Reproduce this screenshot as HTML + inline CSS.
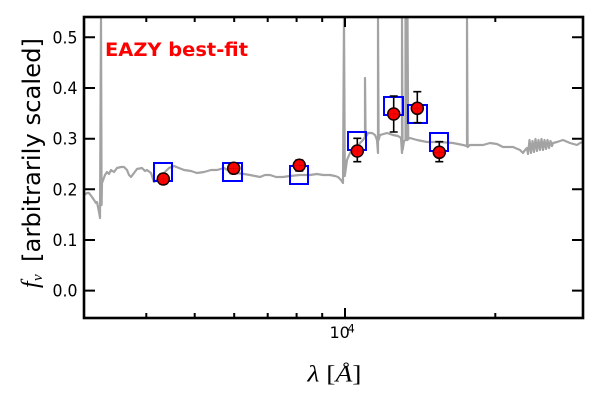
<!DOCTYPE html>
<html>
<head>
<meta charset="utf-8">
<style>
  html, body { margin: 0; padding: 0; background: #ffffff; }
  svg { display: block; }
</style>
</head>
<body>
<svg width="600" height="400" viewBox="0 0 600 400" xmlns="http://www.w3.org/2000/svg">
  <rect x="0" y="0" width="600" height="400" fill="#ffffff"/>
  <defs>
    <clipPath id="plot">
      <rect x="84" y="17" width="499" height="301"/>
    </clipPath>
  </defs>

  <!-- spectrum -->
  <g clip-path="url(#plot)">
    <path fill="none" stroke="#a3a3a3" stroke-width="2.2" stroke-linejoin="round"
      d="M84,195 L87,193 L89,193 L92,197 L94,200 L96,203 L97,202 L99,212 L100,218 L101,17 L101.6,205 L102,183 L105,175 L107,172 L109,174 L111,170 L114,172 L117,168 L121,167 L124,167 L127,170 L129,175 L131,177 L134,173 L137,169 L142,168 L145,171 L147,170 L151,173 L154,182 L157,180 L159,180 L162,176 L164,173 L169,168 L174,166 L179,168 L184,170 L191,171 L197,173 L204,172 L211,170 L217,170 L224,168 L231,172 L237,173 L244,174 L250,175 L255,176 L260,177 L265,175 L270,175 L276,177 L283,177 L290,176 L300,175 L310,175 L317,174 L323,175 L330,175 L335,176 L338,177 L341,180 L343,183 L344,17 L344.8,176 L347,160 L350,153 L353,150 L355,148 L358,147 L360,143 L363,140 L365,137 L365,78 L365.6,137 L368,133 L372,133 L375,135 L377,140 L378,153 L378,17 L378.6,140 L380,135 L387,133 L393,135 L398,136 L401,138 L402,153 L402,17 L402.6,150 L404,141 L405.5,140 L405.5,17 L406.2,140 L407.5,140 L407.5,17 L408.2,139 L410,138 L417,140 L427,142 L440,142 L453,143 L463,145 L467,146 L467,17 L467.6,147 L470,145 L483,145 L490,143 L497,144 L503,147 L513,147 L520,150 L523,153 L525,150 L527,148 L528,154 L529.5,140 L531,153 L532.5,141 L534,152 L535.5,139 L537,151 L538.5,140 L540,150 L541.5,139 L543,150 L544.5,140 L546,149 L547.5,140 L549,148 L550.5,141 L552,146 L553,143 L557,142 L563,140 L570,143 L577,145 L580,143 L583,142"/>
  </g>

  <!-- model photometry squares -->
  <g fill="none" stroke="#0000ff" stroke-width="2">
    <rect x="154" y="163" width="18" height="18"/>
    <rect x="223" y="163" width="19" height="18"/>
    <rect x="290" y="166" width="18" height="18"/>
    <rect x="348" y="132" width="18" height="18"/>
    <rect x="384" y="97" width="19" height="18"/>
    <rect x="408" y="105" width="19" height="18"/>
    <rect x="430" y="133" width="18" height="18"/>
  </g>

  <!-- error bars -->
  <g stroke="#000000" stroke-width="1.6" fill="none">
    <path d="M163.3,174 V184 M159.3,174 H167.3 M159.3,184 H167.3"/>
    <path d="M233.7,163.5 V173.5 M229.7,163.5 H237.7 M229.7,173.5 H237.7"/>
    <path d="M299.3,160 V171 M295.3,160 H303.3 M295.3,171 H303.3"/>
    <path d="M357.3,138.3 V161.7 M353.3,138.3 H361.3 M353.3,161.7 H361.3"/>
    <path d="M393.7,96 V132 M389.7,96 H397.7 M389.7,132 H397.7"/>
    <path d="M417.3,91.7 V122.7 M413.3,91.7 H421.3 M413.3,122.7 H421.3"/>
    <path d="M439.3,141.7 V161.7 M435.3,141.7 H443.3 M435.3,161.7 H443.3"/>
  </g>

  <!-- observed points -->
  <g fill="#ff0000" stroke="#1a0000" stroke-width="1.5">
    <circle cx="163.3" cy="179" r="6"/>
    <circle cx="233.7" cy="168.3" r="6"/>
    <circle cx="299.3" cy="165.3" r="6"/>
    <circle cx="357.3" cy="151" r="6"/>
    <circle cx="393.7" cy="114" r="6"/>
    <circle cx="417.3" cy="108.3" r="6"/>
    <circle cx="439.3" cy="152.3" r="6"/>
  </g>
  <g stroke="#b00000" stroke-width="0.8" opacity="0.6">
    <path d="M163.3,174 V184 M158,179 H168.6"/>
    <path d="M233.7,163 V173.6 M228.4,168.3 H239"/>
    <path d="M299.3,160 V170.6 M294,165.3 H304.6"/>
    <path d="M357.3,145.7 V156.3 M352,151 H362.6"/>
    <path d="M393.7,108.7 V119.3 M388.4,114 H399"/>
    <path d="M417.3,103 V113.6 M412,108.3 H422.6"/>
    <path d="M439.3,147 V157.6 M434,152.3 H444.6"/>
  </g>

  <!-- axes frame -->
  <rect x="84" y="17" width="499" height="301" fill="none" stroke="#000000" stroke-width="2.6"/>

  <!-- ticks -->
  <g stroke="#000000" stroke-width="2">
    <path d="M84,37.3 H95 M84,88 H95 M84,138.7 H95 M84,189.3 H95 M84,240 H95 M84,290.6 H95"/>
    <path d="M583,37.3 H572 M583,88 H572 M583,138.7 H572 M583,189.3 H572 M583,240 H572 M583,290.6 H572"/>
    <path d="M345,318 V308 M345,17 V27"/>
    <path d="M146.3,318 V313 M194.7,318 V313 M234.2,318 V313 M267.7,318 V313 M296.6,318 V313 M322.2,318 V313 M495.3,318 V313"/>
    <path d="M146.3,17 V22 M194.7,17 V22 M234.2,17 V22 M267.7,17 V22 M296.6,17 V22 M322.2,17 V22 M495.3,17 V22"/>
  </g>

  <!-- y tick labels -->
  <g font-family="'DejaVu Sans', 'Liberation Sans', sans-serif" font-size="16.5" fill="#000000" text-anchor="end">
    <text x="77.5" y="43.3" textLength="25" lengthAdjust="spacingAndGlyphs">0.5</text>
    <text x="77.5" y="94" textLength="25" lengthAdjust="spacingAndGlyphs">0.4</text>
    <text x="77.5" y="144.6" textLength="25" lengthAdjust="spacingAndGlyphs">0.3</text>
    <text x="77.5" y="195.3" textLength="25" lengthAdjust="spacingAndGlyphs">0.2</text>
    <text x="77.5" y="246" textLength="25" lengthAdjust="spacingAndGlyphs">0.1</text>
    <text x="77.5" y="296.6" textLength="25" lengthAdjust="spacingAndGlyphs">0.0</text>
  </g>

  <!-- x tick label -->
  <text x="329.5" y="338" font-family="'DejaVu Sans', 'Liberation Sans', sans-serif" font-size="16" fill="#000000">10</text>
  <text x="347.5" y="332.5" font-family="'DejaVu Sans', 'Liberation Sans', sans-serif" font-size="11.5" fill="#000000">4</text>

  <!-- annotation -->
  <text x="105" y="56" font-family="'DejaVu Sans', 'Liberation Sans', sans-serif" font-weight="bold" font-size="18.5" fill="#ff0000" textLength="143" lengthAdjust="spacingAndGlyphs">EAZY best-fit</text>

  <!-- y label -->
  <g transform="translate(40,38) rotate(-90)">
    <text x="0" y="0" text-anchor="end" font-family="'DejaVu Sans', 'Liberation Sans', sans-serif" font-size="24" fill="#000000" textLength="224" lengthAdjust="spacingAndGlyphs">[arbitrarily scaled]</text>
  </g>
  <g transform="translate(38,288) rotate(-90)">
    <text x="0" y="0" font-family="'Liberation Serif', serif" font-style="italic" font-size="24" fill="#000000">f</text>
    <text x="7" y="4" font-family="'Liberation Serif', serif" font-style="italic" font-size="15" fill="#000000">ν</text>
  </g>

  <!-- x label -->
  <text x="307.5" y="381.5" font-family="'Liberation Serif', serif" font-size="23" fill="#000000" textLength="54" lengthAdjust="spacingAndGlyphs"><tspan font-style="italic">λ</tspan> [<tspan font-style="italic">Å</tspan>]</text>
</svg>
</body>
</html>
